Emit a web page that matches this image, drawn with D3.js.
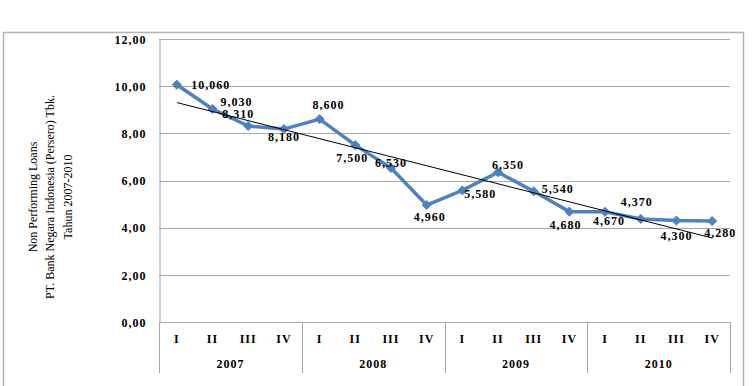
<!DOCTYPE html>
<html>
  <head>
    <meta charset="utf-8" />
    <script src="https://cdn.jsdelivr.net/npm/d3@7"></script>
    <style>
      body { margin: 0; background: #ffffff; }
      .grid line { stroke: #a6a6a6; stroke-width: 1; }
      .tick-label { font-family: "Liberation Serif", serif; font-weight: bold; font-size: 12px; letter-spacing: 1px; fill: #000; }
      .data-label { font-family: "Liberation Serif", serif; font-weight: bold; font-size: 12px; letter-spacing: 1px; fill: #000; }
      .title { font-family: "Liberation Serif", serif; font-size: 12px; fill: #000; }
    </style>
  </head>
  <body>
    <div id="chart"></div>
    <script type="text/javascript">

      var w = 755, h = 386;

      // data
      var years = ["2007", "2008", "2009", "2010"];
      var quarters = ["I", "II", "III", "IV"];
      var npl = [10.06, 9.03, 8.31, 8.18, 8.60, 7.50, 6.53, 4.96, 5.58, 6.35, 5.54, 4.68, 4.67, 4.37, 4.30, 4.28];
      var yTicks = [0, 2, 4, 6, 8, 10, 12];
      var titleLines = ["Non Performing Loans", "PT. Bank  Negara Indonesia (Persero) Tbk.", "Tahun 2007-2010"];

      // where each value label sits relative to its point (dx, dy)
      var labelOffsets = [
        [34, 0], [24, -7], [-10, -12], [0, 8], [9, -14], [-3, 13], [0, -5], [3, 12],
        [18, 3], [10, -7], [24, -3], [-4, 13], [4, 9], [-4, -17], [0, 15], [8, 12]
      ];

      var plot = { left: 159, right: 730, top: 39, bottom: 322 };

      var ids = d3.range(npl.length);
      var x = d3.scaleBand().domain(ids).range([plot.left, plot.right]);
      var y = d3.scaleLinear().domain([0, 12]).range([plot.bottom, plot.top]);

      var idLocale = d3.formatLocale({ decimal: ",", thousands: ".", grouping: [3], currency: ["Rp", ""] });
      var fmtTick = idLocale.format(".2f");
      var fmtVal = idLocale.format(".3f");

      var svg = d3.select("#chart").append("svg")
        .attr("width", w).attr("height", h);

      // outer chart border
      svg.append("rect")
        .attr("x", 3.5).attr("y", 32.5).attr("width", 740).attr("height", 370)
        .attr("fill", "none").attr("stroke", "#b3b3b3").attr("stroke-width", 1.5);

      // horizontal gridlines
      svg.append("g").attr("class", "grid")
        .selectAll("line").data(yTicks).enter().append("line")
        .attr("x1", plot.left).attr("x2", plot.right)
        .attr("y1", function(d) { return Math.round(y(d)) + 0.5; })
        .attr("y2", function(d) { return Math.round(y(d)) + 0.5; });

      // y axis
      var yAxis = svg.append("g")
        .attr("transform", "translate(" + (plot.left + 0.5) + ",0)")
        .call(d3.axisLeft(y).tickValues(yTicks).tickFormat(fmtTick).tickSize(0).tickPadding(13));
      yAxis.select(".domain").attr("stroke", "#a6a6a6");
      yAxis.selectAll("text").attr("class", "tick-label").attr("dy", "0.35em");

      // category axis: quarter row and year groups
      var catAxis = svg.append("g");
      catAxis.selectAll("text.q").data(ids).enter().append("text")
        .attr("class", "tick-label q")
        .attr("x", function(d) { return x(d) + x.bandwidth() / 2; })
        .attr("y", 339).attr("dy", "0.35em").attr("text-anchor", "middle")
        .text(function(d) { return quarters[d % 4]; });

      catAxis.selectAll("text.yr").data(years).enter().append("text")
        .attr("class", "tick-label yr")
        .attr("x", function(d, i) { return x(i * 4) + x.bandwidth() * 2; })
        .attr("y", 364).attr("dy", "0.35em").attr("text-anchor", "middle")
        .text(function(d) { return d; });

      var seps = d3.range(years.length + 1).map(function(i) {
        return i < years.length ? x(i * 4) : plot.right;
      });
      catAxis.selectAll("line").data(seps).enter().append("line")
        .attr("x1", function(d) { return Math.round(d) + 0.5; })
        .attr("x2", function(d) { return Math.round(d) + 0.5; })
        .attr("y1", plot.bottom).attr("y2", 373)
        .attr("stroke", "#a6a6a6").attr("stroke-width", 1);

      // linear trendline (least squares over the quarter index)
      var mx = d3.mean(ids), my = d3.mean(npl);
      var sxy = d3.sum(ids, function(i) { return (i - mx) * (npl[i] - my); });
      var sxx = d3.sum(ids, function(i) { return (i - mx) * (i - mx); });
      var slope = sxy / sxx, icpt = my - slope * mx;
      var cx = function(i) { return x(i) + x.bandwidth() / 2; };
      var first = 0, last = npl.length - 1;

      // series line + diamond markers
      svg.append("path").datum(npl)
        .attr("fill", "none").attr("stroke", "#4f81bd").attr("stroke-width", 3.5)
        .attr("stroke-linejoin", "round")
        .attr("d", d3.line().x(function(d, i) { return cx(i); }).y(function(d) { return y(d); }));

      svg.selectAll("path.marker").data(npl).enter().append("path")
        .attr("class", "marker")
        .attr("d", d3.symbol().type(d3.symbolDiamond2).size(52))
        .attr("transform", function(d, i) { return "translate(" + cx(i) + "," + y(d) + ")"; })
        .attr("fill", "#4f81bd").attr("stroke", "#4f81bd").attr("stroke-width", 1);

      svg.append("line")
        .attr("x1", cx(first)).attr("y1", y(icpt + slope * first))
        .attr("x2", cx(last)).attr("y2", y(icpt + slope * last))
        .attr("stroke", "#000").attr("stroke-width", 1);

      // value labels
      svg.selectAll("text.data-label").data(npl).enter().append("text")
        .attr("class", "data-label")
        .attr("x", function(d, i) { return cx(i) + labelOffsets[i][0]; })
        .attr("y", function(d, i) { return y(d) + labelOffsets[i][1]; })
        .attr("dy", "0.35em").attr("text-anchor", "middle")
        .text(function(d) { return fmtVal(d); });

      // rotated axis title
      var title = svg.append("text").attr("class", "title")
        .attr("transform", "translate(50,197) rotate(-90)")
        .attr("text-anchor", "middle");
      title.selectAll("tspan").data(titleLines).enter().append("tspan")
        .attr("x", 0)
        .attr("y", function(d, i) { return (i - 1) * 17.5; })
        .attr("dy", "0.35em")
        .text(function(d) { return d; });

    </script>
  </body>
</html>
